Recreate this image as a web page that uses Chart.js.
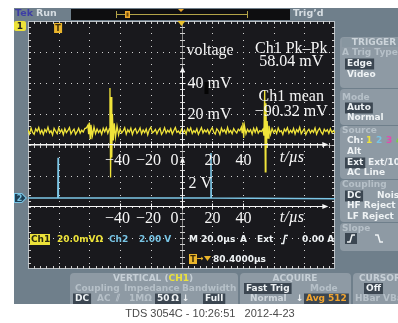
<!DOCTYPE html>
<html>
<head>
<meta charset="utf-8">
<script src="https://cdn.jsdelivr.net/npm/chart.js@4.4.1/dist/chart.umd.min.js"></script>
<style>
html, body { margin: 0; padding: 0; background: #fff; }
canvas { display: block; }
</style>
</head>
<body>
<canvas id="scope" width="398" height="323"></canvas>
<script>
// Ch1 samples: time in µs, level in mV
const ch1Time = [
  -100, -99, -98, -97, -96, -95, -94, -93, -92, -91, -90, -89, -88, -87, -86, -85, -84, -83, -82,
  -81, -80, -79, -78, -77, -76, -75, -74, -73, -72, -71, -70, -69, -68, -67, -66, -65, -64, -63,
  -62, -61, -60.5, -60, -59.5, -59, -58, -57, -56,
  -55, -54, -53, -52, -51, -50, -49, -48,
  -47, -46.6, -46.2, -45.8, -45.4, -45, -44.4, -43.8, -43, -42, -41,
  -40, -39, -38, -37, -36, -35, -34, -33, -32, -31, -30, -29, -28, -27, -26, -25, -24, -23, -22, -21,
  -20, -19, -18, -17, -16, -15, -14, -13, -12, -11, -10, -9, -8, -7, -6, -5, -4, -3, -2, -1,
  0, 1, 2, 3, 4, 5, 6, 7, 8, 9, 10, 11, 12, 13, 14, 15, 16, 17, 18, 19,
  20, 21, 22, 23, 24, 25, 26, 27, 28, 29, 30, 31, 32, 33, 34, 35, 36, 37, 38,
  39, 39.5, 40, 40.5, 41, 42,
  43, 44, 45, 46, 47, 48, 49, 50, 51, 52,
  53, 53.7, 54.2, 54.6, 55, 55.4, 55.8, 56.4, 57,
  58, 59, 60, 61, 62, 63, 64, 65, 66, 67, 68, 69, 70, 71, 72, 73, 74, 75, 76, 77, 78, 79,
  80, 81, 82, 83, 84, 85, 86, 87, 88, 89, 90, 91, 92, 93, 94, 95, 96, 97, 98, 99, 100
];
const ch1Level = [
  9.8, 7.2, 10.9, 8.1, 6.9, 10.4, 8.8, 11.2, 7.5, 9.6, 6.8, 10.1, 8.4, 11.5, 7.9, 9.2, 6.5, 10.7, 8.9,
  7.3, 11.0, 8.2, 9.9, 6.7, 10.5, 8.0, 9.4, 11.3, 7.1, 9.0, 10.2, 6.9, 8.6, 10.8, 7.7, 9.5, 8.3, 10.6,
  11.0, 12.8, 7.0, 14.5, 4.2, 13.0, 6.0, 11.6, 7.4,
  10.3, 8.0, 9.7, 6.9, 10.8, 8.5, 11.1, 7.6,
  10.5, 36.8, -21.0, 31.0, -8.0, 20.0, 3.0, 14.0, 5.0, 12.2, 6.5,
  10.4, 7.8, 9.1, 11.2, 7.0, 9.8, 8.3, 10.9, 6.8, 9.5, 10.6, 7.5, 8.9, 11.0, 7.2, 9.7, 8.0, 10.3, 6.6, 9.9,
  11.4, 7.9, 8.7, 10.1, 7.3, 9.4, 10.8, 6.9, 8.5, 11.1, 7.7, 9.6, 8.2, 10.5, 7.0, 9.3, 11.3, 8.1, 9.0, 7.4,
  10.2, 8.0, 9.6, 7.1, 10.7, 8.8, 11.0, 7.4, 9.3, 8.1, 10.5, 6.9, 9.0, 11.2, 7.8, 9.7, 8.4, 10.0, 7.2, 9.5,
  11.1, 8.3, 7.0, 10.4, 9.2, 6.8, 10.9, 8.6, 9.8, 7.5, 11.3, 8.0, 9.4, 7.3, 10.6, 8.9, 7.7, 10.2, 9.1,
  11.5, 8.0, 14.5, 4.5, 12.5, 7.2,
  10.1, 8.4, 9.9, 7.0, 10.8, 8.2, 11.0, 7.6, 9.3, 8.7,
  10.2, 6.0, 35.4, -17.4, 27.0, -2.0, 15.5, 4.5, 12.4,
  6.9, 10.6, 8.1, 9.7, 7.4, 11.0, 8.5, 9.2, 6.8, 10.3, 8.8, 11.2, 7.6, 9.5, 8.0, 10.7, 7.1, 9.9, 8.4, 11.4, 7.3, 9.0,
  10.5, 6.7, 8.9, 10.1, 7.8, 9.6, 8.2, 11.0, 7.0, 9.4, 10.8, 8.3, 6.9, 10.2, 8.7, 9.8, 7.5, 10.4, 8.1, 9.3, 7.9
];

// Ch2 samples: time in µs, level in V
const ch2Time = [-100, -80.6, -80.4, -80.2, 19.0, 19.2, 19.4, 100];
const ch2Level = [0.0, 0.0, 2.6, 0.0, 0.0, 2.9, 0.0, -0.05];

// annotation axes drawn over the screen
const timeTicks = [-40, -20, 0, 20, 40];
const ch1Ticks = [20, 40];
const timeArrowEnd = 95;      // µs
const ch1ArrowTop = 50;       // mV
const ch2AxisLevel = -0.5;    // V
const ch2ArrowTop = 2.6;      // V
const triggerTime = -80.4;    // µs

const measurements = [
  ['Ch1 Pk\u2013Pk', '58.04 mV'],
  ['Ch1 mean', '\u221290.32 mV']
];

const BEZEL = '#6f7f8b';
const PANEL = '#8e9aa4';
const DIM = '#b6c0c8';
const LIGHT = '#eef2f4';
const HL = '#3b4651';
const YEL = '#ece23a';
const CYAN = '#78c4e4';
const MENU = 'bold 9px "DejaVu Sans"';
const SERIF = '16px "Liberation Serif"';

function text(ctx, s, x, y, color, font = MENU, align = 'left') {
  ctx.font = font;
  ctx.fillStyle = color;
  ctx.textAlign = align;
  ctx.textBaseline = 'middle';
  ctx.fillText(s, x, y);
  return ctx.measureText(s).width;
}

// highlighted menu item: dark box behind the text
function tag(ctx, s, x, y, color = LIGHT, bg = HL) {
  ctx.font = MENU;
  const w = ctx.measureText(s).width;
  ctx.fillStyle = bg;
  ctx.fillRect(x - 2, y - 5.5, w + 4, 11);
  text(ctx, s, x, y, color);
}

function drawGraticule(ctx, a) {
  const w = a.right - a.left, h = a.bottom - a.top;
  const dx = w / 10, dy = h / 8;
  ctx.fillStyle = '#19191d';
  ctx.fillRect(a.left, a.top, w, h);

  ctx.fillStyle = '#d2d2d2';
  for (let i = 1; i < 10; i++) {
    if (i === 5) continue;
    const x = Math.round(a.left + i * dx);
    for (let k = 1; k < 40; k++) ctx.fillRect(x, Math.round(a.top + k * dy / 5), 1, 1);
  }
  for (let j = 1; j < 8; j++) {
    if (j === 4) continue;
    const y = Math.round(a.top + j * dy);
    for (let k = 1; k < 50; k++) ctx.fillRect(Math.round(a.left + k * dx / 5), y, 1, 1);
  }

  // centre cross with minor ticks
  const cx = Math.round(a.left + 5 * dx), cy = Math.round(a.top + 4 * dy);
  ctx.fillStyle = '#8c8c8c';
  ctx.fillRect(cx, a.top, 1, h);
  ctx.fillRect(a.left, cy, w, 1);
  ctx.fillStyle = '#cfcfcf';
  for (let k = 1; k < 40; k++) ctx.fillRect(cx - 2, Math.round(a.top + k * dy / 5), 5, 1);
  for (let k = 1; k < 50; k++) ctx.fillRect(Math.round(a.left + k * dx / 5), cy - 2, 1, 5);

  // border with inward ticks
  ctx.strokeStyle = '#b9c0c6';
  ctx.lineWidth = 1;
  ctx.strokeRect(a.left + 0.5, a.top + 0.5, w - 1, h - 1);
  ctx.fillStyle = '#cfcfcf';
  for (let k = 1; k < 50; k++) {
    const x = Math.round(a.left + k * dx / 5);
    ctx.fillRect(x, a.top, 1, 3);
    ctx.fillRect(x, a.bottom - 3, 1, 3);
  }
  for (let k = 1; k < 40; k++) {
    const y = Math.round(a.top + k * dy / 5);
    ctx.fillRect(a.left, y, 3, 1);
    ctx.fillRect(a.right - 3, y, 3, 1);
  }
}

function drawTopBar(ctx) {
  text(ctx, 'Tek', 15, 14, '#3d3da6', 'bold 9.5px "DejaVu Sans"');
  text(ctx, 'Run', 36, 14, '#d6dde2', 'bold 9.5px "DejaVu Sans"');
  ctx.fillStyle = '#0e0e10';
  ctx.fillRect(71, 9, 219, 11);
  ctx.fillStyle = '#b3a448';
  ctx.fillRect(116, 14, 131, 1);
  ctx.fillRect(116, 11, 1, 7);
  ctx.fillRect(247, 11, 1, 7);
  ctx.fillStyle = '#e9a62a';
  ctx.fillRect(125, 11, 5, 7);
  ctx.fillStyle = '#6a4a10';
  ctx.fillRect(126.5, 12.5, 2, 4);
  ctx.fillStyle = '#e9a62a';
  ctx.beginPath();
  ctx.moveTo(178, 9); ctx.lineTo(184, 9); ctx.lineTo(181, 12); ctx.fill();
  text(ctx, 'Trig\u2019d', 293, 14, '#d6dde2', 'bold 9.5px "DejaVu Sans"');
}

function drawMarkers(ctx, chart) {
  const {x, y2} = chart.scales;
  const a = chart.chartArea;
  // ch1 marker (ground off screen, parked at top)
  ctx.fillStyle = YEL;
  ctx.beginPath(); ctx.roundRect(14, 21, 12, 10, 2); ctx.fill();
  text(ctx, '1', 20, 26.5, '#222', 'bold 9px "DejaVu Sans"', 'center');
  // ch2 ground marker
  const g2 = y2.getPixelForValue(0);
  ctx.fillStyle = CYAN;
  ctx.beginPath();
  ctx.moveTo(14, g2 - 5); ctx.lineTo(22, g2 - 5); ctx.lineTo(27, g2); ctx.lineTo(22, g2 + 5); ctx.lineTo(14, g2 + 5);
  ctx.fill();
  ctx.fillStyle = '#1d3f55';
  ctx.beginPath();
  ctx.moveTo(15, g2 - 4); ctx.lineTo(21.5, g2 - 4); ctx.lineTo(25.5, g2); ctx.lineTo(21.5, g2 + 4); ctx.lineTo(15, g2 + 4);
  ctx.fill();
  text(ctx, '2', 19.5, g2 + 0.5, CYAN, 'bold 8px "DejaVu Sans"', 'center');
  // trigger position
  const tx = x.getPixelForValue(triggerTime);
  ctx.fillStyle = '#eab52c';
  ctx.fillRect(tx - 4, a.top + 2, 8, 10);
  text(ctx, 'T', tx, a.top + 7.5, '#3a2a08', 'bold 8px "DejaVu Sans"', 'center');
  // expansion point
  const cx = x.getPixelForValue(0);
  ctx.fillStyle = '#ecc22e';
  ctx.beginPath();
  ctx.moveTo(cx - 4, a.top); ctx.lineTo(cx + 4, a.top); ctx.lineTo(cx, a.top + 5); ctx.fill();
}

function drawReadout(ctx) {
  ctx.fillStyle = YEL;
  ctx.fillRect(30, 234, 20, 11);
  text(ctx, 'Ch1', 31, 239.5, '#2a2a10');
  text(ctx, '20.0mV\u03a9', 57, 239.5, YEL);
  text(ctx, 'Ch2', 109, 239.5, CYAN);
  text(ctx, '2.00 V', 139, 239.5, CYAN);
  text(ctx, 'M 20.0\u00b5s', 189, 239.5, LIGHT);
  text(ctx, 'A', 240, 239.5, LIGHT);
  text(ctx, 'Ext', 257, 239.5, LIGHT);
  ctx.strokeStyle = LIGHT;
  ctx.lineWidth = 1.5;
  ctx.beginPath();
  ctx.moveTo(281, 243.5); ctx.lineTo(283.5, 243.5); ctx.lineTo(285, 235.5); ctx.lineTo(288, 235.5);
  ctx.stroke();
  text(ctx, '0.00 A', 302, 239.5, LIGHT);

  ctx.fillStyle = '#eab52c';
  ctx.fillRect(189, 254, 8, 10);
  text(ctx, 'T', 193, 259.5, '#3a2a08', 'bold 8px "DejaVu Sans"', 'center');
  text(ctx, '\u2192', 197, 259, '#eab52c', 'bold 8px "DejaVu Sans"');
  ctx.fillStyle = '#eab52c';
  ctx.beginPath(); ctx.moveTo(204, 256); ctx.lineTo(211, 256); ctx.lineTo(207.5, 261); ctx.fill();
  text(ctx, '80.4000\u00b5s', 213, 259.5, LIGHT);
}

function drawTriggerMenu(ctx) {
  const groups = [[37, 88], [89, 125], [126, 179], [180, 222], [223, 251]];
  ctx.fillStyle = PANEL;
  groups.forEach(([t, b]) => { ctx.beginPath(); ctx.roundRect(340, t, 70, b - t, 4); ctx.fill(); });
  ctx.fillStyle = '#8896a0';
  ctx.fillRect(342, 38, 60, 9);
  text(ctx, 'TRIGGER', 374, 42.5, '#ccd4da', MENU, 'center');
  text(ctx, 'A Trig Type', 342, 53, DIM);
  tag(ctx, 'Edge', 347, 64);
  text(ctx, 'Video', 347, 75, LIGHT);
  text(ctx, 'Mode', 342, 98, DIM);
  tag(ctx, 'Auto', 347, 108);
  text(ctx, 'Normal', 347, 118, LIGHT);
  text(ctx, 'Source', 342, 131, DIM);
  text(ctx, 'Ch:', 347, 141, LIGHT);
  text(ctx, '1', 366, 141, YEL);
  text(ctx, '2', 376, 141, CYAN);
  text(ctx, '3', 386, 141, '#e04cb0');
  text(ctx, '4', 396, 141, '#7ad040');
  text(ctx, 'Alt', 347, 152, LIGHT);
  tag(ctx, 'Ext', 347, 163);
  text(ctx, 'Ext/10', 368, 163, LIGHT);
  text(ctx, 'AC Line', 347, 173, LIGHT);
  text(ctx, 'Coupling', 342, 185, DIM);
  tag(ctx, 'DC', 347, 196);
  text(ctx, 'Noise', 377, 196, LIGHT);
  text(ctx, 'HF Reject', 347, 206, LIGHT);
  text(ctx, 'LF Reject', 347, 217, LIGHT);
  text(ctx, 'Slope', 342, 229, DIM);
  ctx.fillStyle = HL;
  ctx.fillRect(345, 233, 12, 11);
  ctx.strokeStyle = LIGHT;
  ctx.lineWidth = 1.5;
  ctx.beginPath();
  ctx.moveTo(347, 242); ctx.lineTo(350, 242); ctx.lineTo(352, 235); ctx.lineTo(355, 235); ctx.stroke();
  ctx.beginPath();
  ctx.moveTo(375, 235); ctx.lineTo(378, 235); ctx.lineTo(380, 242); ctx.lineTo(383, 242); ctx.stroke();
}

function drawBottomMenu(ctx) {
  ctx.fillStyle = PANEL;
  [[70, 168], [240, 111], [353, 60]].forEach(([x, w]) => {
    ctx.beginPath(); ctx.roundRect(x, 273, w, 31, [4, 4, 0, 0]); ctx.fill();
  });
  // header row
  ctx.font = MENU;
  const p1 = 'VERTICAL (', p2 = 'CH1', p3 = ')';
  const wAll = ctx.measureText(p1 + p2 + p3).width;
  let hx = 153 - wAll / 2;
  hx += text(ctx, p1, hx, 278.5, '#c6cfd6');
  hx += text(ctx, p2, hx, 278.5, YEL);
  text(ctx, p3, hx, 278.5, '#c6cfd6');
  text(ctx, 'ACQUIRE', 295, 278.5, '#c6cfd6', MENU, 'center');
  text(ctx, 'CURSOR', 359, 278.5, '#c6cfd6');
  // second row
  text(ctx, 'Coupling', 75, 288.5, DIM);
  text(ctx, 'Impedance', 124, 288.5, DIM);
  text(ctx, 'Bandwidth', 182, 288.5, DIM);
  tag(ctx, 'Fast Trig', 246, 288.5);
  text(ctx, 'Mode', 310, 288.5, DIM);
  tag(ctx, 'Off', 366, 288.5);
  // third row
  tag(ctx, 'DC', 75, 299);
  text(ctx, 'AC', 97, 299, DIM);
  text(ctx, '\u2afd', 116, 299, DIM);
  text(ctx, '1M\u03a9', 129, 299, DIM);
  tag(ctx, '50\u202f\u03a9', 157, 299);
  text(ctx, '\u2193', 182, 299, LIGHT);
  tag(ctx, 'Full', 205, 299);
  text(ctx, 'Normal', 250, 299, '#cdd5db');
  text(ctx, '\u2193', 296, 299, LIGHT);
  tag(ctx, 'Avg 512', 306, 299, '#f2a530');
  text(ctx, 'HBar VBar', 355, 299, DIM);
}

const scopeFrame = {
  id: 'scopeFrame',
  beforeDraw(chart) {
    const ctx = chart.ctx;
    ctx.save();
    ctx.fillStyle = '#ffffff';
    ctx.fillRect(0, 0, chart.width, chart.height);
    ctx.fillStyle = BEZEL;
    ctx.fillRect(14, 8, chart.width - 14, 296);
    drawTopBar(ctx);
    drawGraticule(ctx, chart.chartArea);
    drawMarkers(ctx, chart);
    drawTriggerMenu(ctx);
    drawBottomMenu(ctx);
    drawReadout(ctx);
    ctx.fillStyle = '#ffffff';
    ctx.fillRect(0, 304, chart.width, chart.height - 304);
    text(ctx, 'TDS 3054C - 10:26:51   2012-4-23', 210, 313.5, '#4a4a4a', '11px "Liberation Sans"', 'center');
    ctx.restore();
  }
};

// hand-drawn axes and measurement text laid over the screenshot
const annotations = {
  id: 'annotations',
  afterDatasetsDraw(chart) {
    const {ctx, chartArea: a} = chart;
    const {x, y, y2} = chart.scales;
    const ink = '#f6f6f6';
    ctx.save();
    ctx.strokeStyle = ink;
    ctx.fillStyle = ink;
    ctx.lineWidth = 1;

    const xa = Math.round(x.getPixelForValue(0)) + 0.5;
    const xEnd = x.getPixelForValue(timeArrowEnd);
    const rows = [
      {yy: Math.round(y.getPixelForValue(0)) - 0.5, lab: 16, unit: 13},
      {yy: Math.round(y2.getPixelForValue(ch2AxisLevel)) + 0.5, lab: 12, unit: 11}
    ];
    rows.forEach(r => {
      ctx.beginPath();
      ctx.moveTo(a.left, r.yy); ctx.lineTo(xEnd - 2, r.yy); ctx.stroke();
      ctx.beginPath();
      ctx.moveTo(xEnd + 1, r.yy); ctx.lineTo(xEnd - 5, r.yy - 2.5); ctx.lineTo(xEnd - 5, r.yy + 2.5); ctx.fill();
      timeTicks.forEach(t => {
        const px = Math.round(x.getPixelForValue(t)) + 0.5;
        ctx.beginPath(); ctx.moveTo(px, r.yy - 3); ctx.lineTo(px, r.yy + 3); ctx.stroke();
        const s = t < 0 ? '\u2212' + (-t) : String(t);
        if (t === 0) text(ctx, s, px - 4, r.yy + r.lab, ink, SERIF, 'right');
        else text(ctx, s, px - (t < 0 ? 3 : 0), r.yy + r.lab, ink, SERIF, 'center');
      });
      text(ctx, 't/\u00b5s', x.getPixelForValue(64), r.yy + r.unit, ink, 'italic ' + SERIF);
    });

    // ch1 vertical axis
    const yTop = y.getPixelForValue(ch1ArrowTop);
    ctx.beginPath(); ctx.moveTo(xa, rows[0].yy); ctx.lineTo(xa, yTop + 2); ctx.stroke();
    ctx.beginPath(); ctx.moveTo(xa, yTop - 1); ctx.lineTo(xa - 2.5, yTop + 5); ctx.lineTo(xa + 2.5, yTop + 5); ctx.fill();
    ch1Ticks.forEach(v => {
      const py = Math.round(y.getPixelForValue(v)) + 0.5;
      ctx.beginPath(); ctx.moveTo(xa - 3, py); ctx.lineTo(xa + 3, py); ctx.stroke();
      text(ctx, v + ' mV', xa + 5, py, ink, SERIF);
    });
    text(ctx, 'voltage', xa + 4, yTop - 17, ink, SERIF);
    ctx.fillStyle = '#050505';
    ctx.fillRect(xa + 22, y.getPixelForValue(40) - 1, 4, 12);
    ctx.fillStyle = ink;

    // ch2 vertical axis
    const y2Top = y2.getPixelForValue(ch2ArrowTop);
    ctx.beginPath(); ctx.moveTo(xa, rows[1].yy); ctx.lineTo(xa, y2Top + 2); ctx.stroke();
    ctx.beginPath(); ctx.moveTo(xa, y2Top - 1); ctx.lineTo(xa - 2.5, y2Top + 5); ctx.lineTo(xa + 2.5, y2Top + 5); ctx.fill();
    text(ctx, '2 V', xa + 6, rows[1].yy - 23, ink, SERIF);

    // measurement readouts
    const mx = x.getPixelForValue(71.5);
    text(ctx, measurements[0][0], mx, 49, ink, SERIF, 'center');
    text(ctx, measurements[0][1], mx, 62, ink, SERIF, 'center');
    text(ctx, measurements[1][0], mx, 97, ink, SERIF, 'center');
    text(ctx, measurements[1][1], mx, 112, ink, SERIF, 'center');
    ctx.restore();
  }
};

const chart = new Chart(document.getElementById('scope'), {
  type: 'line',
  data: {
    datasets: [
      {
        label: 'Ch1',
        data: ch1Time.map((t, i) => ({x: t, y: ch1Level[i]})),
        yAxisID: 'y',
        borderColor: '#f0e43a',
        borderWidth: 1.3,
        pointRadius: 0,
        tension: 0
      },
      {
        label: 'Ch2',
        data: ch2Time.map((t, i) => ({x: t, y: ch2Level[i]})),
        yAxisID: 'y2',
        borderColor: '#7cc6e6',
        borderWidth: 1.5,
        pointRadius: 0,
        tension: 0
      }
    ]
  },
  options: {
    responsive: false,
    animation: false,
    devicePixelRatio: 1,
    events: [],
    layout: {padding: {left: 28, top: 21, right: 63, bottom: 54}},
    plugins: {legend: {display: false}, tooltip: {enabled: false}},
    scales: {
      x: {type: 'linear', min: -100, max: 100, display: false},
      y: {min: -80, max: 80, display: false},
      y2: {min: -4.58, max: 11.42, display: false}
    }
  },
  plugins: [scopeFrame, annotations]
});
</script>
</body>
</html>
